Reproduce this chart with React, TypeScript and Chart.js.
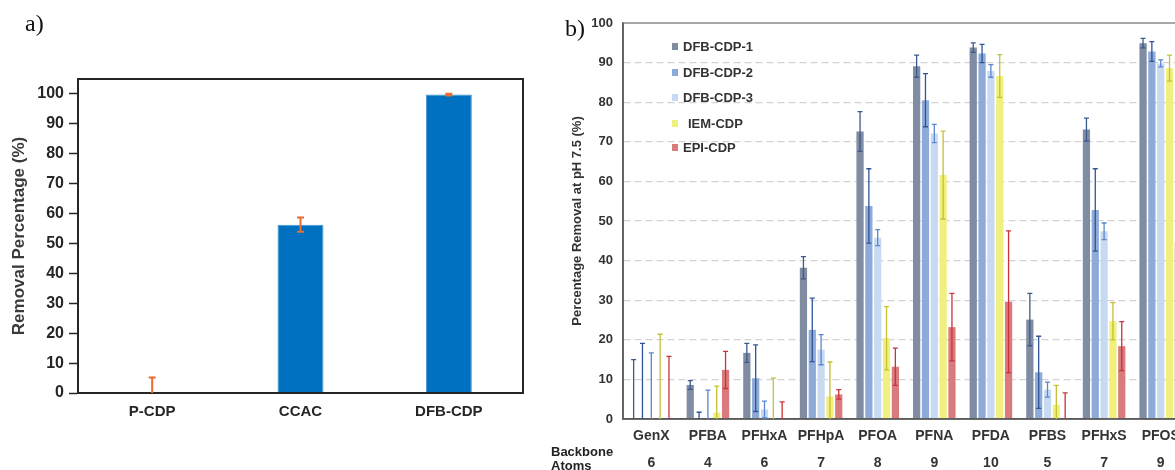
import React, { useEffect, useRef } from "react";
import { Chart, registerables } from "chart.js";

Chart.register(...registerables);

const FONT = "'Liberation Sans', Arial, Helvetica, sans-serif";
const SERIF = "'Liberation Serif', 'Times New Roman', serif";

// ---------- Panel a) ----------
const aCategories = ["P-CDP", "CCAC", "DFB-CDP"];
const aValues = [0, 56.3, 99.8];
const aErrors = [5.2, 2.4, 0.3];
const aTickValues = [0, 10, 20, 30, 40, 50, 60, 70, 80, 90, 100];

// ---------- Panel b) ----------
const pfas = ["GenX", "PFBA", "PFHxA", "PFHpA", "PFOA", "PFNA", "PFDA", "PFBS", "PFHxS", "PFOS"];
const backboneAtoms = ["6", "4", "6", "7", "8", "9", "10", "5", "7", "9"];
const seriesNames = ["DFB-CDP-1", "DFB-CDP-2", "DFB-CDP-3", "IEM-CDP", "EPI-CDP"];

const dfb1 = [0, 8.6, 16.7, 38.2, 72.6, 89.1, 93.8, 25.1, 73.1, 94.9];
const dfb1Err = [15.0, 1.1, 2.4, 2.8, 5.0, 2.8, 1.2, 6.6, 2.9, 1.2];
const dfb2 = [0, 0, 10.3, 22.5, 53.8, 80.5, 92.3, 11.8, 52.8, 92.8];
const dfb2Err = [19.1, 1.7, 8.4, 8.0, 9.4, 6.7, 2.3, 9.1, 10.4, 2.5];
const dfb3 = [0, 0, 2.4, 17.5, 45.8, 72.1, 87.9, 7.4, 47.4, 89.8];
const dfb3Err = [16.7, 7.3, 2.1, 3.8, 2.0, 2.3, 1.6, 1.9, 2.1, 0.9];
const iem = [0, 1.6, 0, 5.7, 20.4, 61.6, 86.6, 3.6, 24.7, 88.6];
const iemErr = [21.4, 6.7, 10.3, 8.7, 8.0, 11.1, 5.4, 4.9, 4.7, 3.3];
const epi = [0, 12.4, 0, 6.2, 13.2, 23.2, 29.6, 0.2, 18.4, 44.7];
const epiErr = [15.8, 4.7, 4.3, 1.2, 4.7, 8.5, 17.9, 6.4, 6.2, 16.3];

const seriesValues = [dfb1, dfb2, dfb3, iem, epi];
const seriesErrors = [dfb1Err, dfb2Err, dfb3Err, iemErr, epiErr];
const seriesColors = ["#7f8ca1", "#8eaad8", "#c8daf2", "#f1ef7d", "#d97a7c"];
const seriesErrColors = ["#3d5a8c", "#2f5597", "#5b87d0", "#c4c236", "#c9333a"];

const errorBarPlugin = {
  id: "errorBars",
  afterDatasetsDraw(chart: any, _args: any, opts: any) {
    const { ctx } = chart;
    const yScale = chart.scales.y;
    const errs = opts.errors || [];
    ctx.save();
    chart.data.datasets.forEach((ds: any, di: number) => {
      const eArr = errs[di];
      if (!eArr) return;
      const meta = chart.getDatasetMeta(di);
      ctx.strokeStyle = opts.colors[di];
      ctx.lineWidth = opts.lineWidth;
      meta.data.forEach((el: any, j: number) => {
        const v = ds.data[j];
        const e = eArr[j];
        if (e == null) return;
        const x = el.x;
        const top = yScale.getPixelForValue(v + e);
        const lowVal = v - e;
        const clipped = lowVal < yScale.min;
        const bot = yScale.getPixelForValue(clipped ? yScale.min : lowVal);
        const hw = opts.capWidth / 2;
        ctx.beginPath();
        ctx.moveTo(x, top);
        ctx.lineTo(x, bot);
        ctx.moveTo(x - hw, top);
        ctx.lineTo(x + hw, top);
        if (!clipped) {
          ctx.moveTo(x - hw, bot);
          ctx.lineTo(x + hw, bot);
        }
        ctx.stroke();
      });
    });
    ctx.restore();
  },
};

const framePlugin = {
  id: "frame",
  afterDatasetsDraw(chart: any, _args: any, opts: any) {
    const { ctx } = chart;
    const { left, top, right, bottom } = chart.chartArea;
    ctx.save();
    ctx.lineWidth = opts.width;
    ctx.strokeStyle = opts.color;
    ctx.beginPath();
    ctx.moveTo(left, bottom);
    ctx.lineTo(left, top);
    ctx.lineTo(right, top);
    ctx.lineTo(right, bottom);
    ctx.stroke();
    ctx.strokeStyle = opts.axisColor;
    ctx.beginPath();
    ctx.moveTo(left, top);
    ctx.lineTo(left, bottom);
    ctx.lineTo(right, bottom);
    ctx.stroke();
    ctx.restore();
  },
};

function configA(): any {
  return {
    type: "bar",
    data: {
      labels: aCategories,
      datasets: [
        {
          label: "Removal Percentage",
          data: aValues,
          backgroundColor: "#0070c0",
          borderColor: "#3f95d6",
          borderWidth: 1,
          barPercentage: 0.31,
          categoryPercentage: 1,
        },
      ],
    },
    plugins: [framePlugin, errorBarPlugin],
    options: {
      responsive: false,
      animation: false,
      layout: { padding: { top: 79, right: 37, left: 0, bottom: 0 } },
      plugins: {
        legend: { display: false },
        tooltip: { enabled: false },
        frame: { color: "#262626", axisColor: "#262626", width: 2 },
        errorBars: { errors: [aErrors], colors: ["#ec6b2d"], lineWidth: 2, capWidth: 7 },
      },
      scales: {
        x: {
          grid: { display: false, drawTicks: false },
          border: { display: true, color: "#262626", width: 2 },
          ticks: {
            padding: 10,
            color: "#262626",
            font: { family: FONT, size: 15, weight: "bold", lineHeight: 1.2 },
          },
          afterFit: (s: any) => {
            s.height = 77;
          },
        },
        y: {
          min: 0,
          max: 105,
          afterBuildTicks: (s: any) => {
            s.ticks = aTickValues.map((v) => ({ value: v }));
          },
          ticks: {
            stepSize: 10,
            padding: 5,
            color: "#262626",
            font: { family: FONT, size: 16, weight: "bold" },
          },
          grid: {
            display: true,
            drawOnChartArea: false,
            drawTicks: true,
            tickLength: 9,
            color: "#262626",
            tickWidth: 1.5,
          },
          border: { display: true, color: "#262626", width: 2 },
          title: {
            display: true,
            text: "Removal Percentage (%)",
            color: "#3a3a3a",
            padding: { top: 9, bottom: 0 },
            font: { family: FONT, size: 17, weight: "bold", lineHeight: 1.2 },
          },
          afterFit: (s: any) => {
            s.width = 78;
          },
        },
      },
    },
  };
}

function configB(): any {
  return {
    type: "bar",
    data: {
      labels: pfas.map((p, i) => [p, backboneAtoms[i]]),
      datasets: seriesNames.map((name, i) => ({
        label: name,
        data: seriesValues[i],
        backgroundColor: seriesColors[i],
        borderWidth: 0,
        barPercentage: 0.82,
        categoryPercentage: 0.78,
      })),
    },
    plugins: [framePlugin, errorBarPlugin],
    options: {
      responsive: false,
      animation: false,
      layout: { padding: { top: 23, right: 11, left: 0, bottom: 0 } },
      plugins: {
        legend: { display: false },
        tooltip: { enabled: false },
        frame: { color: "#8c8c8c", axisColor: "#595959", width: 1.5 },
        errorBars: { errors: seriesErrors, colors: seriesErrColors, lineWidth: 1.3, capWidth: 5 },
      },
      scales: {
        x: {
          grid: { display: false, drawTicks: false },
          border: { display: true, color: "#595959", width: 1.5 },
          ticks: {
            padding: 3,
            color: "#333333",
            font: { family: FONT, size: 14, weight: "bold", lineHeight: 1.95 },
          },
          afterFit: (s: any) => {
            s.height = 51;
          },
        },
        y: {
          min: 0,
          max: 100,
          ticks: {
            stepSize: 10,
            padding: 10,
            color: "#333333",
            font: { family: FONT, size: 13, weight: "bold" },
          },
          grid: {
            display: true,
            drawTicks: false,
            lineWidth: 1.3,
            color: (c: any) =>
              c.tick && (c.tick.value === 0 || c.tick.value === 100) ? "rgba(0,0,0,0)" : "#d3d3d3",
          },
          border: { display: true, color: "#595959", width: 1.5, dash: [7, 4] },
          title: {
            display: true,
            text: "Percentage Removal at pH 7.5 (%)",
            color: "#333333",
            padding: { top: 10, bottom: 0 },
            font: { family: FONT, size: 13, weight: "bold", lineHeight: 1.2 },
          },
          afterFit: (s: any) => {
            s.width = 63;
          },
        },
      },
    },
  };
}

const legendTops = [46.7, 72.3, 97.7, 123.3, 147.3];

export default function App() {
  const aRef = useRef<HTMLCanvasElement>(null);
  const bRef = useRef<HTMLCanvasElement>(null);

  useEffect(() => {
    const ca = new Chart(aRef.current as HTMLCanvasElement, configA());
    const cb = new Chart(bRef.current as HTMLCanvasElement, configB());
    return () => {
      ca.destroy();
      cb.destroy();
    };
  }, []);

  return (
    <div
      style={{
        position: "fixed",
        left: 0,
        top: 0,
        width: 1175,
        height: 470,
        overflow: "hidden",
        background: "#ffffff",
      }}
    >
      <canvas
        ref={aRef}
        width={560}
        height={470}
        style={{ position: "absolute", left: 0, top: 0, width: 560, height: 470, display: "block" }}
      />
      <canvas
        ref={bRef}
        width={640}
        height={470}
        style={{ position: "absolute", left: 560, top: 0, width: 640, height: 470, display: "block" }}
      />
      <div
        style={{
          position: "absolute",
          left: 25,
          top: 11,
          fontFamily: SERIF,
          fontSize: 24,
          lineHeight: "24px",
          color: "#111",
        }}
      >
        a)
      </div>
      <div
        style={{
          position: "absolute",
          left: 565,
          top: 16,
          fontFamily: SERIF,
          fontSize: 24,
          lineHeight: "24px",
          color: "#111",
          background: "#fff",
        }}
      >
        b)
      </div>
      <div
        style={{
          position: "absolute",
          left: 551,
          top: 445,
          fontFamily: FONT,
          fontSize: 13,
          fontWeight: "bold",
          lineHeight: "14px",
          color: "#222",
        }}
      >
        Backbone
        <br />
        Atoms
      </div>
      {seriesNames.map((name, i) => (
        <div
          key={name}
          style={{
            position: "absolute",
            left: 672,
            top: legendTops[i] - 7,
            height: 14,
            display: "flex",
            alignItems: "center",
            fontFamily: FONT,
            fontSize: 13,
            fontWeight: "bold",
            color: "#333",
            whiteSpace: "nowrap",
          }}
        >
          <span
            style={{
              display: "inline-block",
              width: 6,
              height: 7,
              background: seriesColors[i],
              marginRight: name === "IEM-CDP" ? 10 : 5,
            }}
          />
          {name}
        </div>
      ))}
    </div>
  );
}
